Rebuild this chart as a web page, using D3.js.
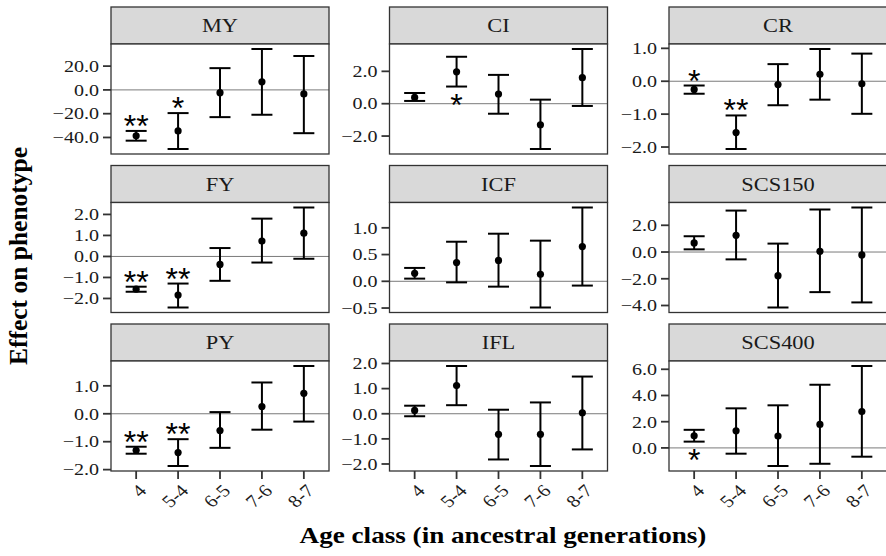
<!DOCTYPE html>
<html>
<head>
<meta charset="utf-8">
<script src="https://cdn.jsdelivr.net/npm/d3@7"></script>
<style>
  body { margin: 0; background: #fff; }
</style>
</head>
<body>
<svg id="chart" width="886" height="556"></svg>
<script>
// Trait panels, laid out row by row
const traits = ["MY", "CI", "CR", "FY", "ICF", "SCS150", "PY", "IFL", "SCS400"];
const ageClasses = ["4", "5-4", "6-5", "7-6", "8-7"];

// Estimated effect on phenotype, one entry per age class
const estMY     = [-38.6, -34.5, -2.3, 6.8, -3.4];
const estCI     = [0.39, 1.97, 0.6, -1.3, 1.61];
const estCR     = [-0.25, -1.56, -0.1, 0.21, -0.08];
const estFY     = [-1.56, -1.84, -0.38, 0.73, 1.11];
const estICF    = [0.15, 0.35, 0.39, 0.13, 0.65];
const estSCS150 = [0.68, 1.25, -1.77, 0.05, -0.22];
const estPY     = [-1.31, -1.39, -0.6, 0.26, 0.73];
const estIFL    = [0.13, 1.12, -0.82, -0.82, 0.04];
const estSCS400 = [0.92, 1.31, 0.9, 1.79, 2.77];

// Lower confidence limits
const loMY     = [-42.7, -49.7, -22.9, -20.9, -36.4];
const loCI     = [0.17, 1.06, -0.62, -2.8, -0.14];
const loCR     = [-0.38, -2.06, -0.73, -0.56, -0.99];
const loFY     = [-1.68, -2.43, -1.16, -0.29, -0.11];
const loICF    = [0.05, -0.02, -0.1, -0.49, -0.08];
const loSCS150 = [0.2, -0.55, -4.15, -3.0, -3.77];
const loPY     = [-1.43, -1.87, -1.22, -0.57, -0.28];
const loIFL    = [-0.1, 0.34, -1.82, -2.08, -1.42];
const loSCS400 = [0.48, -0.44, -1.38, -1.21, -0.67];

// Upper confidence limits
const hiMY     = [-34.5, -19.5, 18.3, 34.4, 28.5];
const hiCI     = [0.66, 2.9, 1.78, 0.25, 3.38];
const hiCR     = [-0.13, -1.04, 0.52, 0.98, 0.84];
const hiFY     = [-1.44, -1.29, 0.4, 1.8, 2.33];
const hiICF    = [0.25, 0.74, 0.89, 0.76, 1.38];
const hiSCS150 = [1.18, 3.1, 0.63, 3.18, 3.33];
const hiPY     = [-1.18, -0.91, 0.06, 1.12, 1.71];
const hiIFL    = [0.32, 1.9, 0.16, 0.45, 1.48];
const hiSCS400 = [1.38, 3.02, 3.25, 4.82, 6.25];

// Y tick values for each panel
const ticksMY     = [-40, -20, 0, 20];
const ticksCI     = [-2, 0, 2];
const ticksCR     = [-2, -1, 0, 1];
const ticksFY     = [-2, -1, 0, 1, 2];
const ticksICF    = [-0.5, 0, 0.5, 1];
const ticksSCS150 = [-4, -2, 0, 2];
const ticksPY     = [-2, -1, 0, 1];
const ticksIFL    = [-2, -1, 0, 1, 2];
const ticksSCS400 = [0, 2, 4, 6];

// Significance marks and whether they sit above or below the interval
const sigMY     = ["**", "*", "", "", ""];
const sigCI     = ["", "*", "", "", ""];
const sigCR     = ["*", "**", "", "", ""];
const sigFY     = ["**", "**", "", "", ""];
const sigICF    = ["", "", "", "", ""];
const sigSCS150 = ["", "", "", "", ""];
const sigPY     = ["**", "**", "", "", ""];
const sigIFL    = ["", "", "", "", ""];
const sigSCS400 = ["*", "", "", "", ""];
const sigSide   = { MY: "above", CI: "below", CR: "above", FY: "above", PY: "above", SCS400: "below" };

const estimates = { MY: estMY, CI: estCI, CR: estCR, FY: estFY, ICF: estICF, SCS150: estSCS150, PY: estPY, IFL: estIFL, SCS400: estSCS400 };
const lowers    = { MY: loMY, CI: loCI, CR: loCR, FY: loFY, ICF: loICF, SCS150: loSCS150, PY: loPY, IFL: loIFL, SCS400: loSCS400 };
const uppers    = { MY: hiMY, CI: hiCI, CR: hiCR, FY: hiFY, ICF: hiICF, SCS150: hiSCS150, PY: hiPY, IFL: hiIFL, SCS400: hiSCS400 };
const yTicks    = { MY: ticksMY, CI: ticksCI, CR: ticksCR, FY: ticksFY, ICF: ticksICF, SCS150: ticksSCS150, PY: ticksPY, IFL: ticksIFL, SCS400: ticksSCS400 };
const sigs      = { MY: sigMY, CI: sigCI, CR: sigCR, FY: sigFY, ICF: sigICF, SCS150: sigSCS150, PY: sigPY, IFL: sigIFL, SCS400: sigSCS400 };

// Layout
const colLeft = [111, 389.5, 669];
const rowTop = [7, 165.5, 324];
const panelW = 218, stripH = 37, panelH = 110;
const SX = 1.18;          // horizontal widening of the lettering
const tickLen = 8;
const capW = 21;
const SERIF = "'Liberation Serif', 'Times New Roman', serif";
const SANS = "'Liberation Sans', Arial, sans-serif";

const svg = d3.select("#chart");
svg.append("rect").attr("width", 886).attr("height", 556).attr("fill", "#fff");

const x = d3.scalePoint().domain(ageClasses).range([0, panelW]).padding(0.6);

function stretchedText(parent, tx, ty, str, opts = {}) {
  const g = parent.append("g")
    .attr("transform", `translate(${tx},${ty}) scale(${SX},1)` + (opts.rotate ? ` rotate(${opts.rotate})` : ""));
  return g.append("text").style("font-family", SERIF).attr("fill", "#1a1a1a").text(str);
}

traits.forEach((trait, i) => {
  const col = i % 3, row = Math.floor(i / 3);
  const left = colLeft[col], top = rowTop[row];
  const est = estimates[trait], lo = lowers[trait], hi = uppers[trait];

  const minV = d3.min(lo), maxV = d3.max(hi), pad = (maxV - minV) * 0.05;
  const y = d3.scaleLinear().domain([minV - pad, maxV + pad]).range([panelH, 0]);

  // strip
  const strip = svg.append("g").attr("transform", `translate(${left},${top})`);
  strip.append("rect").attr("width", panelW).attr("height", stripH)
    .attr("fill", "#d9d9d9").attr("stroke", "#333").attr("stroke-width", 1.3);
  stretchedText(strip, panelW / 2, stripH / 2 + 6.5, trait)
    .attr("text-anchor", "middle").attr("font-size", 19);

  const g = svg.append("g").attr("transform", `translate(${left},${top + stripH})`);
  g.append("rect").attr("width", panelW).attr("height", panelH).attr("fill", "#fff");

  // zero reference line
  g.append("line").attr("x1", 0).attr("x2", panelW)
    .attr("y1", y(0)).attr("y2", y(0))
    .attr("stroke", "#7a7a7a").attr("stroke-width", 1);

  // y axis ticks and labels
  const ticks = yTicks[trait];
  g.selectAll(".ytick").data(ticks).join("line")
    .attr("x1", -tickLen).attr("x2", 0)
    .attr("y1", d => y(d)).attr("y2", d => y(d))
    .attr("stroke", "#333").attr("stroke-width", 1.8);
  ticks.forEach(t => {
    stretchedText(g, -tickLen - 4, y(t) + 5.8, d3.format(".1f")(t))
      .attr("text-anchor", "end").attr("font-size", 17);
  });

  // error bars
  const bars = g.selectAll(".bar").data(ageClasses).join("g");
  bars.append("line")
    .attr("x1", d => x(d)).attr("x2", d => x(d))
    .attr("y1", (d, j) => y(lo[j])).attr("y2", (d, j) => y(hi[j]))
    .attr("stroke", "#000").attr("stroke-width", 2);
  bars.append("line")
    .attr("x1", d => x(d) - capW / 2).attr("x2", d => x(d) + capW / 2)
    .attr("y1", (d, j) => y(lo[j])).attr("y2", (d, j) => y(lo[j]))
    .attr("stroke", "#000").attr("stroke-width", 2);
  bars.append("line")
    .attr("x1", d => x(d) - capW / 2).attr("x2", d => x(d) + capW / 2)
    .attr("y1", (d, j) => y(hi[j])).attr("y2", (d, j) => y(hi[j]))
    .attr("stroke", "#000").attr("stroke-width", 2);
  bars.append("circle")
    .attr("cx", d => x(d)).attr("cy", (d, j) => y(est[j])).attr("r", 3.6)
    .attr("fill", "#000");

  // significance marks
  const marks = sigs[trait];
  marks.forEach((m, j) => {
    if (!m) return;
    const side = sigSide[trait];
    const yy = side === "above" ? y(hi[j]) + 6 : y(lo[j]) + 29;
    g.append("text").attr("x", x(ageClasses[j])).attr("y", yy)
      .attr("text-anchor", "middle").style("font-family", SANS)
      .attr("font-size", 32).attr("fill", "#000").text(m);
  });

  // panel border
  g.append("rect").attr("width", panelW).attr("height", panelH)
    .attr("fill", "none").attr("stroke", "#333").attr("stroke-width", 1.3);

  // x axis on bottom row
  if (row === 2) {
    g.selectAll(".xtick").data(ageClasses).join("line")
      .attr("x1", d => x(d)).attr("x2", d => x(d))
      .attr("y1", panelH).attr("y2", panelH + tickLen)
      .attr("stroke", "#333").attr("stroke-width", 1.8);
    ageClasses.forEach(c => {
      stretchedText(g, x(c) + 1, panelH + tickLen + 4, c, { rotate: -45 })
        .attr("text-anchor", "end").attr("dy", "0.72em").attr("font-size", 17.5);
    });
  }
});

// axis titles
stretchedText(svg, 503, 543, "Age class (in ancestral generations)")
  .attr("text-anchor", "middle").attr("font-size", 23).attr("font-weight", "bold").attr("fill", "#000");
svg.append("g").attr("transform", "translate(27,256) rotate(-90)")
  .append("text").attr("text-anchor", "middle").style("font-family", SERIF)
  .attr("font-size", 25.5).attr("font-weight", "bold").attr("fill", "#000")
  .text("Effect on phenotype");
</script>
</body>
</html>
